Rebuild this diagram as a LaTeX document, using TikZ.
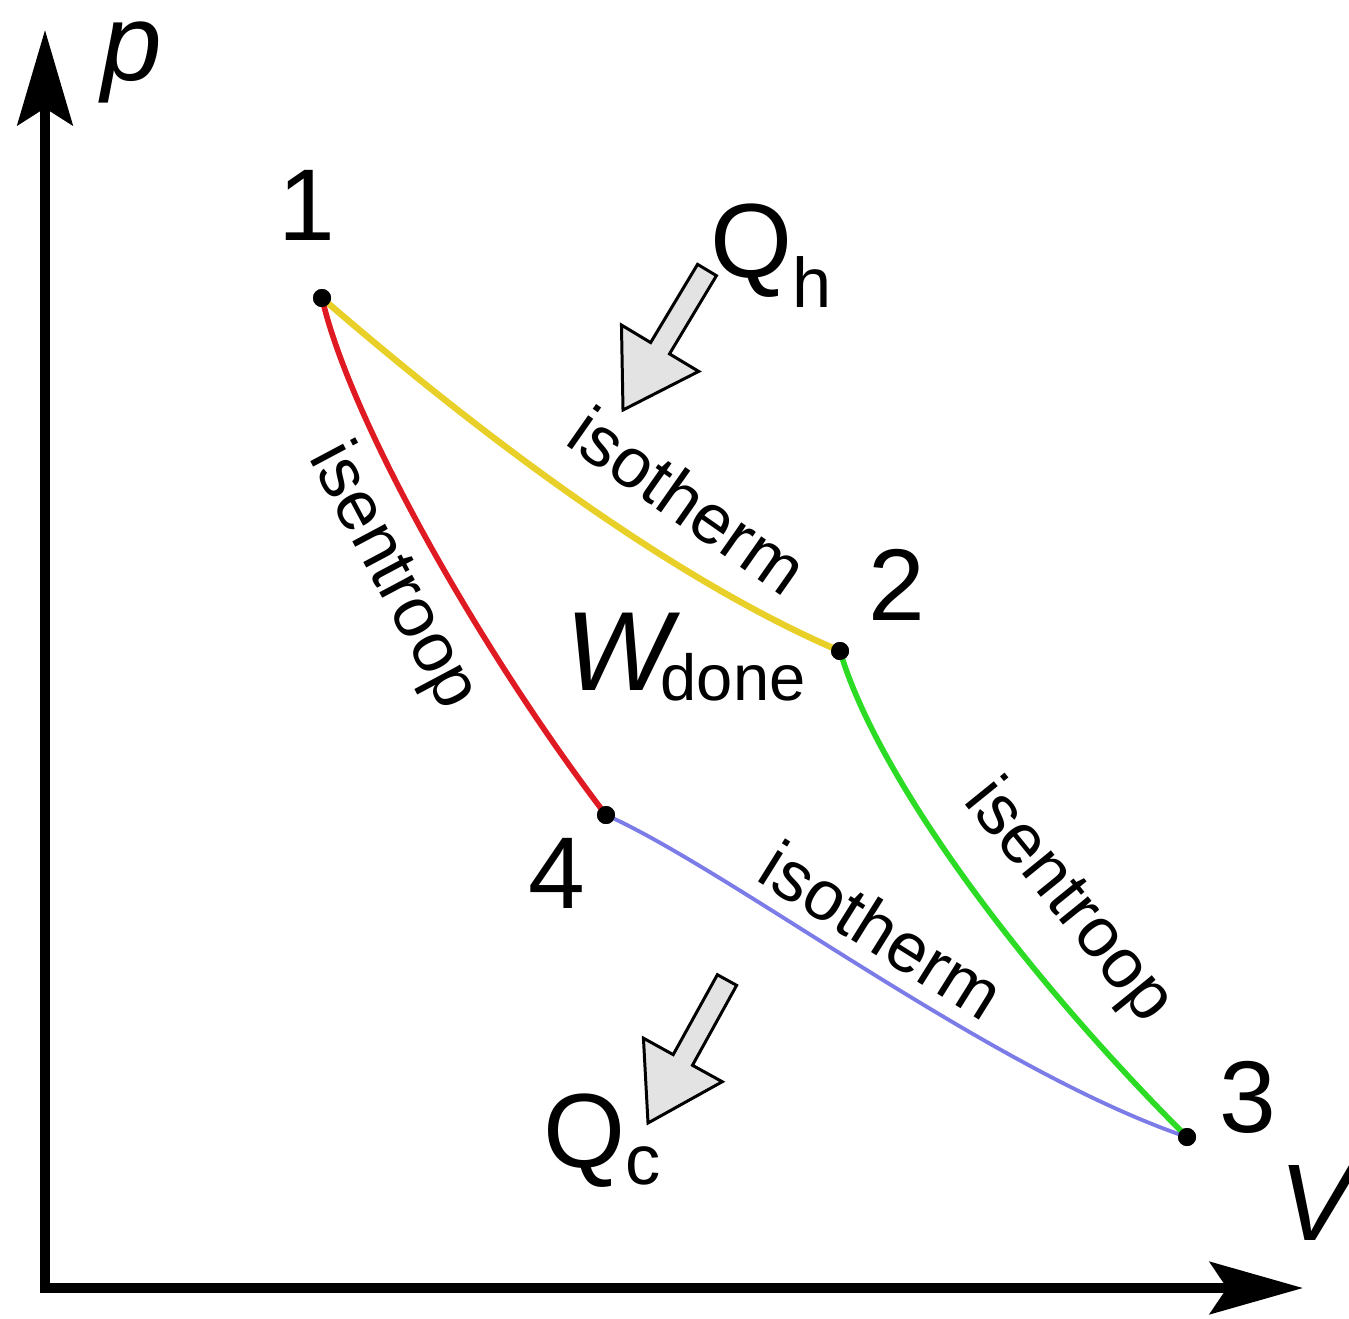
\documentclass[tikz,border=0pt]{standalone}
\usepackage{fontspec}
\setmainfont{Liberation Sans}
\usetikzlibrary{arrows.meta,calc}
\definecolor{cyel}{RGB}{232,208,40}
\definecolor{cred}{RGB}{224,26,34}
\definecolor{cgreen}{RGB}{44,220,36}
\definecolor{cblue}{RGB}{124,124,232}
\newcommand\blockarr[2]{%
  \coordinate (H) at ($(#2)!0.72cm!(#1)$);
  \filldraw[fill=black!11, draw=black, line width=0.85pt, line join=miter]
    ($(#1)!0.11cm!90:(#2)$) -- ($(H)!0.11cm!-90:(#1)$) -- ($(H)!0.45cm!-90:(#1)$)
    -- (#2) -- ($(H)!0.45cm!90:(#1)$) -- ($(H)!0.11cm!90:(#1)$)
    -- ($(#1)!0.11cm!-90:(#2)$) -- cycle;}
\begin{document}
\begin{tikzpicture}[x=0.01cm,y=-0.01cm,
  dot/.style={circle,fill=black,inner sep=0pt,minimum size=0.18cm},
  big/.style={font=\fontsize{29}{29}\selectfont,inner sep=0pt},
  curvelab/.style={font=\fontsize{20}{20}\selectfont,inner sep=0pt},
  axislab/.style={font=\fontsize{31}{31}\selectfont\itshape,inner sep=0pt},
  curve/.style={line width=1.6pt}]
\useasboundingbox (0,0) rectangle (1349,1318);
% axes
\coordinate (origin) at (45,1288);
\coordinate (ptop) at (45,30);
\coordinate (vend) at (1303,1288);
\draw[line width=2.8pt,{Stealth[length=0.95cm,width=0.55cm,inset=0.17cm]}-{Stealth[length=0.93cm,width=0.52cm,inset=0.17cm]}]
  (ptop) -- (origin) -- (vend);
\node[axislab] (plab) at (132,62) {p};
\node[axislab] (vlab) at (1316,1203) {V};
% state points
\node[dot] (n1) at (322,298) {};
\node[dot] (n2) at (840,651) {};
\node[dot] (n3) at (1187,1137) {};
\node[dot] (n4) at (606,815) {};
% curves
\draw[line width=1.8pt,cyel] (n1.center) .. controls (440,400) and (650,570) .. (n2.center);
\draw[curve,cred] (n1.center) .. controls (350,420) and (480,650) .. (n4.center);
\draw[curve,cgreen] (n2.center) .. controls (875,770) and (1010,960) .. (n3.center);
\draw[line width=1.1pt,cblue] (n4.center) .. controls (730,870) and (990,1070) .. (n3.center);
\node[dot] at (n1) {};\node[dot] at (n2) {};\node[dot] at (n3) {};\node[dot] at (n4) {};
% number labels
\node[big] (l1) at (307,205) {1};
\node[big] (l2) at (897,585) {2};
\node[big] (l3) at (1248,1097) {3};
\node[big] (l4) at (557,873) {4};
% curve labels
\node[curvelab,rotate=-35] (iso1) at (688,500) {isotherm};
\node[curvelab,rotate=-32] (iso2) at (882,930) {isotherm};
\node[curvelab,rotate=-62] (ise1) at (392,577) {isentroop};
\node[curvelab,rotate=-51] (ise2) at (1068,902) {isentroop};
% heat and work labels
\node[anchor=base west,inner sep=0pt,font=\fontsize{30}{30}\selectfont] (qh) at (710,277)
  {Q\raisebox{-0.3cm}{\fontsize{20}{20}\selectfont h}};
\node[anchor=base west,inner sep=0pt,font=\fontsize{30}{30}\selectfont] (qc) at (543,1167)
  {Q\raisebox{-0.17cm}{\fontsize{20}{20}\selectfont c}};
\node[anchor=base west,inner sep=0pt,font=\fontsize{32}{32}\selectfont] (wd) at (565,690)
  {\textit{W}\hspace{-0.2cm}\raisebox{-0.1cm}{\fontsize{18.5}{18.5}\selectfont done}};
% block arrows
\coordinate (hT) at (707,270);
\coordinate (hP) at (623,410);
\coordinate (cT) at (727,980);
\coordinate (cP) at (648,1123);
\blockarr{hT}{hP}
\blockarr{cT}{cP}
\end{tikzpicture}
\end{document}
